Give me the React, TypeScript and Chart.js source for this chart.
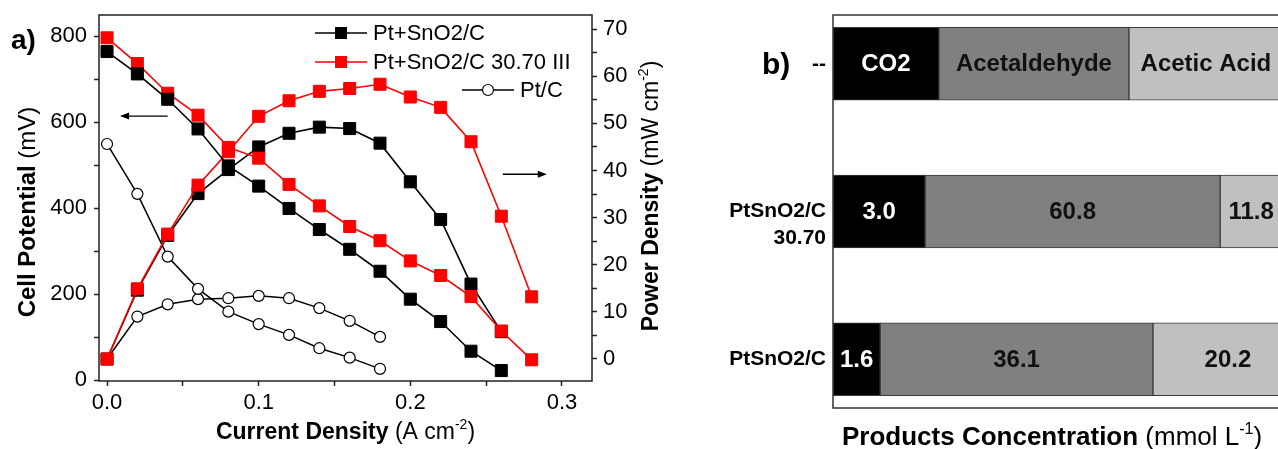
import React, { useEffect, useRef } from 'react';
import { Chart, registerables } from 'chart.js';

Chart.register(...registerables);

const FONT = "'Liberation Sans', Arial, Helvetica, sans-serif";

// ---------- Panel a data ----------
const currentPtSnO2 = [0, 0.02, 0.04, 0.06, 0.08, 0.1, 0.12, 0.14, 0.16, 0.18, 0.2, 0.22, 0.24, 0.26];
const potentialPtSnO2 = [764, 712, 653, 584, 498, 451, 399, 350, 304, 253, 188, 136, 67, 22];
const powerPtSnO2 = [0, 14.6, 26.2, 35.1, 40.2, 45.0, 47.9, 49.2, 48.9, 45.8, 37.6, 29.6, 15.9, 5.8];

const current3070 = [0, 0.02, 0.04, 0.06, 0.08, 0.1, 0.12, 0.14, 0.16, 0.18, 0.2, 0.22, 0.24, 0.26, 0.28];
const potential3070 = [796, 736, 667, 616, 541, 516, 455, 405, 357, 324, 277, 243, 194, 114, 47];
const power3070 = [0, 14.9, 26.5, 36.9, 44.0, 51.5, 54.8, 56.8, 57.4, 58.3, 55.6, 53.4, 46.1, 30.3, 13.2];

const currentPtC = [0, 0.02, 0.04, 0.06, 0.08, 0.1, 0.12, 0.14, 0.16, 0.18];
const potentialPtC = [549, 433, 287, 212, 159, 130, 105, 74, 52, 26];
const powerPtC = [0, 9.0, 11.6, 12.7, 12.9, 13.4, 12.9, 10.8, 8.1, 4.7];

const seriesNames = ['Pt+SnO2/C', 'Pt+SnO2/C 30.70 III', 'Pt/C'];

const xTicks = [0, 0.05, 0.1, 0.15, 0.2, 0.25, 0.3];
const xTickLabels = ['0.0', '', '0.1', '', '0.2', '', '0.3'];
const potentialTicks = [0, 100, 200, 300, 400, 500, 600, 700, 800];
const potentialTickLabels = ['0', '', '200', '', '400', '', '600', '', '800'];
const powerTicks = [0, 5, 10, 15, 20, 25, 30, 35, 40, 45, 50, 55, 60, 65, 70];
const powerTickLabels = ['0', '', '10', '', '20', '', '30', '', '40', '', '50', '', '60', '', '70'];

// ---------- Panel b data ----------
const rowLabels = [['--'], ['PtSnO2/C', '30.70'], ['PtSnO2/C']];
const products = ['CO2', 'Acetaldehyde', 'Acetic Acid'];
const co2Conc = [null, 3.0, 1.6];
const acetaldehydeConc = [null, 60.8, 36.1];
const aceticConc = [null, 11.8, 20.2];
// drawn segment lengths (the schematic is not to scale), in % of the visible frame width
const co2Len = [23.8, 20.7, 10.6];
const acetaldehydeLen = [42.7, 66.3, 61.3];
const aceticLen = [34.6, 13.9, 33.7];

type Part = { t: string; bold?: boolean; sup?: boolean };

function drawRich(ctx: CanvasRenderingContext2D, parts: Part[], x: number, y: number, size: number, align: 'left' | 'center') {
  const fontFor = (p: Part) => `${p.bold ? 'bold ' : ''}${p.sup ? Math.round(size * 0.62) : size}px ${FONT}`;
  let total = 0;
  for (const p of parts) {
    ctx.font = fontFor(p);
    total += ctx.measureText(p.t).width;
  }
  let cx = align === 'center' ? x - total / 2 : x;
  ctx.textAlign = 'left';
  ctx.textBaseline = 'alphabetic';
  for (const p of parts) {
    ctx.font = fontFor(p);
    ctx.fillText(p.t, cx, p.sup ? y - size * 0.42 : y);
    cx += ctx.measureText(p.t).width;
  }
}

function drawArrow(ctx: CanvasRenderingContext2D, x1: number, y1: number, x2: number, y2: number) {
  const dir = Math.sign(x2 - x1);
  ctx.beginPath();
  ctx.moveTo(x1, y1);
  ctx.lineTo(x2 - dir * 6, y2);
  ctx.stroke();
  ctx.beginPath();
  ctx.moveTo(x2, y2);
  ctx.lineTo(x2 - dir * 9, y2 - 3.5);
  ctx.lineTo(x2 - dir * 9, y2 + 3.5);
  ctx.closePath();
  ctx.fill();
}

const panelAPlugin = {
  id: 'panelA',
  afterDraw(chart: any) {
    const { ctx, chartArea: ca, scales } = chart;
    const xs = scales.x, yPot = scales.yPot, yPow = scales.yPow;
    ctx.save();
    // frame
    ctx.strokeStyle = '#222';
    ctx.lineWidth = 1.5;
    ctx.strokeRect(ca.left, ca.top, ca.right - ca.left, ca.bottom - ca.top);

    // arrows pointing to the axes
    ctx.strokeStyle = '#000';
    ctx.fillStyle = '#000';
    ctx.lineWidth = 1.3;
    drawArrow(ctx, xs.getPixelForValue(0.04), yPot.getPixelForValue(614), xs.getPixelForValue(0.0086), yPot.getPixelForValue(614));
    drawArrow(ctx, xs.getPixelForValue(0.261), yPow.getPixelForValue(39.2), xs.getPixelForValue(0.29), yPow.getPixelForValue(39.2));

    // legend
    const entries = [
      { ds: 0, dx: 216, dy: 18 },
      { ds: 2, dx: 216, dy: 47 },
      { ds: 4, dx: 363, dy: 75 },
    ];
    entries.forEach((e, i) => {
      const d = chart.data.datasets[e.ds];
      const lx = ca.left + e.dx, ly = ca.top + e.dy;
      ctx.strokeStyle = d.borderColor;
      ctx.lineWidth = 1.5;
      ctx.beginPath();
      ctx.moveTo(lx, ly);
      ctx.lineTo(lx + 52, ly);
      ctx.stroke();
      const mx = lx + 26;
      if (d.pointStyle === 'rect') {
        ctx.fillStyle = d.pointBackgroundColor;
        ctx.fillRect(mx - 6, ly - 6, 12, 12);
      } else {
        ctx.fillStyle = '#fff';
        ctx.strokeStyle = '#000';
        ctx.lineWidth = 1.2;
        ctx.beginPath();
        ctx.arc(mx, ly, 5.5, 0, Math.PI * 2);
        ctx.fill();
        ctx.stroke();
      }
      ctx.fillStyle = '#000';
      ctx.font = `22px ${FONT}`;
      ctx.textAlign = 'left';
      ctx.textBaseline = 'middle';
      ctx.fillText(seriesNames[i], lx + 58, ly + 1);
    });

    // axis titles
    ctx.fillStyle = '#000';
    drawRich(ctx, [
      { t: 'Current Density', bold: true },
      { t: ' (A cm' },
      { t: '-2', sup: true },
      { t: ')' },
    ], (ca.left + ca.right) / 2, 439, 23, 'center');

    ctx.save();
    ctx.translate(35, 212);
    ctx.rotate(-Math.PI / 2);
    drawRich(ctx, [{ t: 'Cell Potential', bold: true }, { t: ' (mV)' }], 0, 0, 24, 'center');
    ctx.restore();

    ctx.save();
    ctx.translate(658, 196);
    ctx.rotate(-Math.PI / 2);
    drawRich(ctx, [
      { t: 'Power Density', bold: true },
      { t: ' (mW cm' },
      { t: '-2', sup: true },
      { t: ')' },
    ], 0, 0, 23, 'center');
    ctx.restore();

    // panel tag
    ctx.font = `bold 28px ${FONT}`;
    ctx.textAlign = 'left';
    ctx.textBaseline = 'alphabetic';
    ctx.fillText('a)', 11, 49);
    ctx.restore();
  },
};

const panelBPlugin = {
  id: 'panelB',
  afterDraw(chart: any) {
    const { ctx, chartArea: ca, scales } = chart;
    const ys = scales.y;
    ctx.save();
    // frame (open on the right, cut by the picture edge)
    ctx.strokeStyle = '#333';
    ctx.lineWidth = 1.5;
    ctx.beginPath();
    ctx.moveTo(chart.width, ca.top);
    ctx.lineTo(ca.left, ca.top);
    ctx.lineTo(ca.left, ca.bottom);
    ctx.lineTo(chart.width, ca.bottom);
    ctx.stroke();

    // segment labels
    const concs = [co2Conc, acetaldehydeConc, aceticConc];
    const textColors = ['#ffffff', '#111111', '#111111'];
    chart.data.datasets.forEach((d: any, k: number) => {
      const meta = chart.getDatasetMeta(k);
      meta.data.forEach((el: any, j: number) => {
        const v = concs[k][j];
        const txt = v === null ? products[k] : v.toFixed(1);
        ctx.font = `bold 24px ${FONT}`;
        ctx.fillStyle = textColors[k];
        ctx.textAlign = 'center';
        ctx.textBaseline = 'middle';
        ctx.fillText(txt, (el.x + el.base) / 2, el.y + 1);
      });
    });

    // category labels
    ctx.fillStyle = '#000';
    ctx.font = `bold 21px ${FONT}`;
    ctx.textAlign = 'right';
    ctx.textBaseline = 'middle';
    rowLabels.forEach((lines, i) => {
      const y = ys.getPixelForValue(i);
      lines.forEach((ln, li) => ctx.fillText(ln, ca.left - 7, y + li * 27));
    });

    // panel tag
    ctx.font = `bold 30px ${FONT}`;
    ctx.textAlign = 'left';
    ctx.textBaseline = 'alphabetic';
    ctx.fillText('b)', 82, 74);

    // axis title
    drawRich(ctx, [
      { t: 'Products Concentration', bold: true },
      { t: ' (mmol L' },
      { t: '-1', sup: true },
      { t: ')' },
    ], 162, 445, 26, 'left');
    ctx.restore();
  },
};

function tickGrid() {
  return { drawOnChartArea: false, drawTicks: true, tickLength: 5, tickColor: '#222', tickWidth: 1.5 };
}

export default function App() {
  const refA = useRef<HTMLCanvasElement>(null);
  const refB = useRef<HTMLCanvasElement>(null);

  useEffect(() => {
    const toXY = (xs: number[], ys: number[]) => xs.map((x, i) => ({ x, y: ys[i] }));
    const sq = (color: string, order: number) => ({
      borderColor: color,
      backgroundColor: color,
      pointBackgroundColor: color,
      pointBorderColor: color,
      pointStyle: 'rect',
      pointRadius: 8.5,
      pointBorderWidth: 1,
      borderWidth: 1.6,
      tension: 0,
      order,
    });
    const circ = (order: number) => ({
      borderColor: '#000',
      backgroundColor: '#fff',
      pointBackgroundColor: '#fff',
      pointBorderColor: '#000',
      pointStyle: 'circle',
      pointRadius: 5.5,
      pointBorderWidth: 1.2,
      borderWidth: 1.5,
      tension: 0,
      order,
    });
    const tickFont = { family: FONT, size: 22 };
    const fitV = (w: number) => (s: any) => { s.width = w; s.paddingTop = 0; s.paddingBottom = 0; };

    const chartA = new Chart(refA.current!, {
      type: 'line',
      data: {
        datasets: [
          { label: seriesNames[0], data: toXY(currentPtSnO2, potentialPtSnO2), yAxisID: 'yPot', ...sq('#000000', 1) },
          { label: seriesNames[0], data: toXY(currentPtSnO2, powerPtSnO2), yAxisID: 'yPow', ...sq('#000000', 4) },
          { label: seriesNames[1], data: toXY(current3070, potential3070), yAxisID: 'yPot', ...sq('#ff0000', 2) },
          { label: seriesNames[1], data: toXY(current3070, power3070), yAxisID: 'yPow', ...sq('#ff0000', 3) },
          { label: seriesNames[2], data: toXY(currentPtC, potentialPtC), yAxisID: 'yPot', ...circ(5) },
          { label: seriesNames[2], data: toXY(currentPtC, powerPtC), yAxisID: 'yPow', ...circ(6) },
        ] as any,
      },
      options: {
        responsive: false,
        animation: false,
        devicePixelRatio: 1,
        layout: { padding: { top: 15, left: 0, right: 0, bottom: 0 } },
        plugins: { legend: { display: false }, tooltip: { enabled: false } },
        scales: {
          x: {
            type: 'linear',
            bounds: 'data',
            min: -0.0053,
            max: 0.3198,
            afterFit: (s: any) => { s.height = 68; s.paddingLeft = 0; s.paddingRight = 0; },
            afterBuildTicks: (s: any) => { s.ticks = xTicks.map((v) => ({ value: v })); },
            ticks: { callback: (_v: any, i: number) => xTickLabels[i], font: tickFont, color: '#000', padding: 4, maxRotation: 0, autoSkip: false },
            grid: tickGrid(),
            border: { display: false },
          },
          yPot: {
            type: 'linear',
            position: 'left',
            bounds: 'data',
            min: -2.3,
            max: 849,
            afterFit: fitV(99),
            afterBuildTicks: (s: any) => { s.ticks = potentialTicks.map((v) => ({ value: v })); },
            ticks: { callback: (_v: any, i: number) => potentialTickLabels[i], font: tickFont, color: '#000', padding: 7, autoSkip: false },
            grid: tickGrid(),
            border: { display: false },
          },
          yPow: {
            type: 'linear',
            position: 'right',
            bounds: 'data',
            min: -4.67,
            max: 73.0,
            afterFit: fitV(88),
            afterBuildTicks: (s: any) => { s.ticks = powerTicks.map((v) => ({ value: v })); },
            ticks: { callback: (_v: any, i: number) => powerTickLabels[i], font: tickFont, color: '#000', padding: 6, autoSkip: false },
            grid: tickGrid(),
            border: { display: false },
          },
        },
      } as any,
      plugins: [panelAPlugin],
    });

    const lens = [co2Len, acetaldehydeLen, aceticLen];
    const fills = ['#000000', '#808080', '#c0c0c0'];
    const chartB = new Chart(refB.current!, {
      type: 'bar',
      data: {
        datasets: products.map((p, k) => ({
          label: p,
          data: lens[k].map((v, i) => ({ x: v, y: i })),
          backgroundColor: fills[k],
          borderColor: '#3a3a3a',
          borderWidth: 1,
          borderSkipped: false,
          barThickness: 73,
        })) as any,
      },
      options: {
        indexAxis: 'y',
        responsive: false,
        animation: false,
        devicePixelRatio: 1,
        layout: { padding: { left: 153, top: 15, bottom: 41, right: 0 } },
        plugins: { legend: { display: false }, tooltip: { enabled: false } },
        scales: {
          x: { type: 'linear', bounds: 'data', stacked: true, min: 0, max: 100, display: false },
          y: { type: 'linear', bounds: 'data', offset: false, stacked: true, min: -0.33, max: 2.33, reverse: true, display: false },
        },
      } as any,
      plugins: [panelBPlugin],
    });

    return () => {
      chartA.destroy();
      chartB.destroy();
    };
  }, []);

  return (
    <div style={{ position: 'absolute', left: 0, top: 0, width: 1278, height: 449, background: '#fff', overflow: 'hidden' }}>
      <div style={{ position: 'absolute', left: 0, top: 0, width: 680, height: 449 }}>
        <canvas ref={refA} width={680} height={449} style={{ display: 'block' }} />
      </div>
      <div style={{ position: 'absolute', left: 680, top: 0, width: 598, height: 449 }}>
        <canvas ref={refB} width={598} height={449} style={{ display: 'block' }} />
      </div>
    </div>
  );
}
